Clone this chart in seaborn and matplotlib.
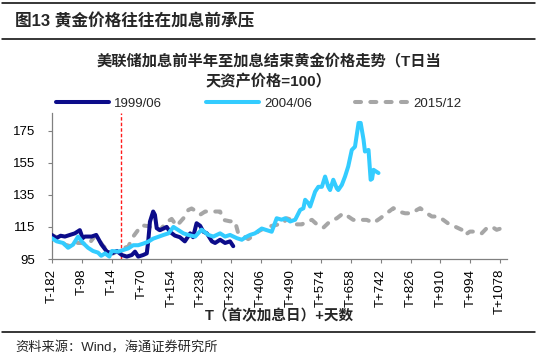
import numpy as np
import pandas as pd
import seaborn as sns
import matplotlib.pyplot as plt
from matplotlib.lines import Line2D

# Gold price, indexed to 100 on the first hike day (T), by days from T
days_1999 = [-182, -169, -157, -145, -131, -117, -103, -95, -89, -70, -57, -42, -27, -13,
             1, 15, 29, 43, 52, 61, 75, 85, 89, 94, 103, 108, 113, 122, 132, 141, 150,
             164, 178, 192, 207, 215, 225, 235, 244, 254, 268, 277, 291, 305, 319, 328]
gold_1999 = [110, 108, 109.5, 109, 110, 111, 113, 108, 109, 109, 110, 104, 99.6, 98.5,
             100, 97.5, 96.5, 97.5, 99.6, 96.5, 97.5, 98.5, 105.8, 118.3, 124.6, 122.5, 114.2, 113, 114, 115, 112,
             109.6, 108.6, 106, 111, 108.6, 117.3, 115.7, 112, 111, 106, 105, 107, 105, 106, 103]

days_2004 = [-182, -168, -150, -136, -122, -108, -94, -80, -66, -52, -43, -32, -20, -13,
             5, 19, 33, 47, 61, 75, 89, 103, 117, 132, 146, 160, 174, 188, 202, 221, 239,
             258, 272, 291, 305, 319, 338, 352, 366, 375, 389, 408, 422, 436, 450, 464,
             474, 488, 502, 516, 525, 530, 539, 544, 558, 567, 577, 586, 595, 600, 609,
             619, 623, 633, 642, 651, 661, 670, 680, 686, 694, 698, 708, 714, 718, 722, 736]
gold_2004 = [108, 106, 105, 102, 104, 109, 105, 102, 100, 99, 97, 98.5, 96.5, 100,
             99.6, 100.6, 101.6, 103.6, 103.6, 104.6, 105.8, 107.7, 108.8, 110, 111, 115, 113, 111, 110, 109, 113.3,
             110, 109, 111, 109, 110, 108, 107, 109, 110, 111, 114, 113, 112, 120.4, 119.5,
             120.4, 118.4, 119.5, 125.6, 126.6, 131.9, 129.8, 127.7, 137, 140, 140, 146.4, 140, 138, 144.4,
             139, 138, 141.2, 146.4, 152.7, 163, 165, 179.8, 179.8, 169.4, 162, 163, 144.4, 145, 150.6, 148.6]

days_2015 = [-182, -163, -145, -130, -117, -98, -79, -60, -50, -37, -23, -9, 1, 15, 33,
             47, 57, 71, 89, 103, 122, 141, 155, 169, 188, 202, 211, 225, 235, 249, 277,
             291, 300, 319, 333, 342, 352, 370, 384, 399, 417, 431, 450, 469, 478, 492,
             506, 521, 535, 549, 563, 581, 600, 619, 637, 651, 665, 684, 703, 722, 741,
             759, 778, 792, 811, 830, 844, 853, 872, 886, 904, 918, 937, 951, 970, 979,
             993, 1012, 1026, 1040, 1054, 1068, 1082]
gold_2015 = [110, 108, 104, 103, 105, 105, 104, 109.5, 107, 103, 100.6, 98.5, 99.6, 101.6, 102.7,
             109, 112, 116, 115.5, 114, 113, 118, 120, 115.6, 120.4, 125.6, 126.5, 124.6, 122.6, 124.6, 124.6,
             124.6, 119.4, 118.5, 118.5, 111, 110, 107.4, 109.4, 112.3, 114.4, 115.4, 116.3, 117.3, 120.4, 119.4,
             116.6, 116.6, 118.5, 119.4, 116.6, 114.5, 118.5, 120.4, 123.5, 121.5, 119.4, 119.4, 119.4, 117.5, 120.4,
             123.5, 126.7, 124.6, 123.5, 123.5, 125.6, 126.7, 123.5, 121.5, 121.5, 119.4, 116.3, 115.2, 113.2, 110,
             112.1, 112.1, 111, 114.2, 115.2, 113.2, 114.2]

first_hike_line = 12
x_ticks = list(range(-182, 1079, 84))
x_tick_labels = [f"T{d:+d}" for d in x_ticks]
y_ticks = [95, 115, 135, 155, 175]

sns.set_style("ticks")
plt.rcParams['font.family'] = ['Liberation Sans', 'Noto Sans CJK SC']
plt.rcParams['axes.unicode_minus'] = False

fig = plt.figure(figsize=(5.37, 3.58), dpi=100)
ax = fig.add_axes([0.0963, 0.2765, 0.8478, 0.4078])

lw = 2.9
sns.lineplot(x=days_2015, y=gold_2015, ax=ax, color='#A6A6A6', lw=lw, label='2015/12',
             linestyle=(0, (1.5, 2.3)), dash_capstyle='round', zorder=2)
sns.lineplot(x=days_1999, y=gold_1999, ax=ax, color='#0C0C8A', lw=lw, label='1999/06',
             solid_joinstyle='round', solid_capstyle='round', zorder=3)
sns.lineplot(x=days_2004, y=gold_2004, ax=ax, color='#33CCFF', lw=lw, label='2004/06',
             solid_joinstyle='round', solid_capstyle='round', zorder=4)

ax.axvline(first_hike_line, color='#FF1A1A', lw=1.0, ls=(0, (2.5, 1.5)), zorder=1)

ax.set_xlim(-182, 1097)
ax.set_ylim(95, 186)
ax.set_xticks(x_ticks)
ax.set_xticklabels(x_tick_labels, rotation=90, va='top', ha='center')
ax.set_yticks(y_ticks)
ax.tick_params(axis='both', direction='out', length=3, width=0.8, color='#808080',
               labelsize=9.5, labelcolor='black')
ax.tick_params(axis='y', pad=9)
ax.tick_params(axis='x', pad=4)
for side in ['top', 'right']:
    ax.spines[side].set_visible(False)
for side in ['left', 'bottom']:
    ax.spines[side].set_color('#808080')
    ax.spines[side].set_linewidth(0.9)
ax.set_ylabel('')
ax.set_xlabel('T（首次加息日）+天数', fontsize=10.5, fontweight='bold', va='center')
ax.xaxis.set_label_coords(0.5, (259 - 316) / 146)

# legend in the order of the original
handles, labels = ax.get_legend_handles_labels()
order = [labels.index(l) for l in ['1999/06', '2004/06', '2015/12']]
ax.get_legend().remove()
fig.legend([handles[i] for i in order], [labels[i] for i in order],
           loc='center', bbox_to_anchor=(259 / 537, 1 - 104 / 358), ncol=3, frameon=False,
           fontsize=9.5, handlelength=4.0, handletextpad=0.4, columnspacing=3.3, borderpad=0)

# titles, rules and source
fig.text(15 / 537, 1 - 21 / 358, '图13 黄金价格往往在加息前承压', fontsize=12, fontweight='bold',
         ha='left', va='center')
fig.text(0.5, 1 - 61 / 358, '美联储加息前半年至加息结束黄金价格走势（T日当', fontsize=11,
         fontweight='bold', ha='center', va='center')
fig.text(0.5, 1 - 82 / 358, '天资产价格=100）', fontsize=11, fontweight='bold', ha='center', va='center')
fig.text(15 / 537, 1 - 348 / 358, '资料来源：Wind，海通证券研究所', fontsize=9.5, ha='left', va='center')
for y in [3, 38.5, 332]:
    fig.add_artist(Line2D([0.004, 0.996], [1 - y / 358] * 2, color='black', lw=1.1))

fig.savefig('out.png', dpi=100)
